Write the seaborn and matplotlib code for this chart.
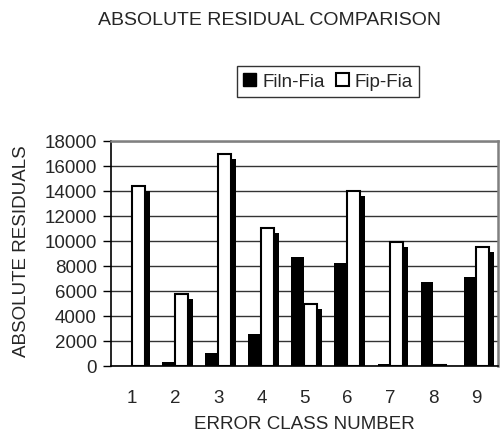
import numpy as np
import pandas as pd
import matplotlib
matplotlib.use('Agg')
import matplotlib.pyplot as plt
import matplotlib.patheffects as pe
from matplotlib.patches import Patch
import seaborn as sns

# 数据
classes = ['1', '2', '3', '4', '5', '6', '7', '8', '9']
filn_fia = [0, 250, 1000, 2500, 8650, 8200, 150, 6650, 7100]
fip_fia = [14400, 5750, 16900, 11000, 4950, 14000, 9850, 60, 9500]
series = ['Filn-Fia', 'Fip-Fia']
yticks = [0, 2000, 4000, 6000, 8000, 10000, 12000, 14000, 16000, 18000]

df = pd.DataFrame({
    'cls': classes * 2,
    'val': filn_fia + fip_fia,
    'series': [series[0]] * len(classes) + [series[1]] * len(classes),
})

sns.set_style('white')
plt.rcParams['font.family'] = ['Liberation Sans', 'DejaVu Sans']
fs = 13.5

fig = plt.figure(figsize=(5, 4.39), dpi=100)
ax = fig.add_axes([0.2214, 0.165, 0.7746, 0.5125])

sns.barplot(data=df, x='cls', y='val', hue='series', order=classes, hue_order=series,
            palette={'Filn-Fia': 'black', 'Fip-Fia': 'white'}, width=0.6,
            edgecolor='black', linewidth=1.5, legend=False, ax=ax, zorder=3)

# 白色柱子加阴影
n = len(classes)
for i, bar in enumerate(ax.patches[:2 * n]):
    if i >= n:
        bar.set_path_effects([pe.SimplePatchShadow(offset=(3.6, -3.6), shadow_rgbFace='black', alpha=1.0),
                              pe.Normal()])
    else:
        bar.set_linewidth(0)

ax.set_xlim(-0.5, 8.5)
ax.set_ylim(0, 18000)
ax.set_yticks(yticks)
ax.set_yticklabels([str(t) for t in yticks], fontsize=fs)
ax.yaxis.grid(True, color='#333333', linewidth=1, zorder=0)
ax.set_axisbelow(True)

ax.set_xticks(range(n))
ax.set_xticklabels(classes, fontsize=fs)
ax.set_xticks(np.arange(-0.5, n, 1), minor=True)
ax.tick_params(axis='x', which='major', length=0, pad=17)
ax.tick_params(axis='x', which='minor', length=5, width=1, color='black', direction='out')
ax.tick_params(axis='y', length=6, width=1, color='black', direction='out', pad=4, left=True)
ax.set_xlabel('')
ax.set_ylabel('')

for s in ['left', 'bottom']:
    ax.spines[s].set_color('black')
    ax.spines[s].set_linewidth(1.2)
for s in ['top', 'right']:
    ax.spines[s].set_visible(True)
    ax.spines[s].set_color('#808080')
    ax.spines[s].set_linewidth(1.8)

handles = [Patch(facecolor='black', edgecolor='black', label=series[0]),
           Patch(facecolor='white', edgecolor='black', linewidth=1.5, label=series[1])]
leg = fig.legend(handles=handles, loc='center', bbox_to_anchor=(0.656, 0.812), ncol=2,
                 frameon=True, fancybox=False, edgecolor='black', fontsize=fs,
                 handlelength=0.7, handleheight=0.7, handletextpad=0.3, columnspacing=0.6,
                 borderpad=0.35, borderaxespad=0)
leg.get_frame().set_linewidth(1)

fig.text(0.538, 0.953, 'ABSOLUTE RESIDUAL COMPARISON', ha='center', va='center', fontsize=14)
fig.text(0.043, 0.428, 'ABSOLUTE RESIDUALS', ha='center', va='center', rotation=90, fontsize=fs)
fig.text(0.608, 0.032, 'ERROR CLASS NUMBER', ha='center', va='center', fontsize=fs)

fig.savefig('out.png', dpi=100)
